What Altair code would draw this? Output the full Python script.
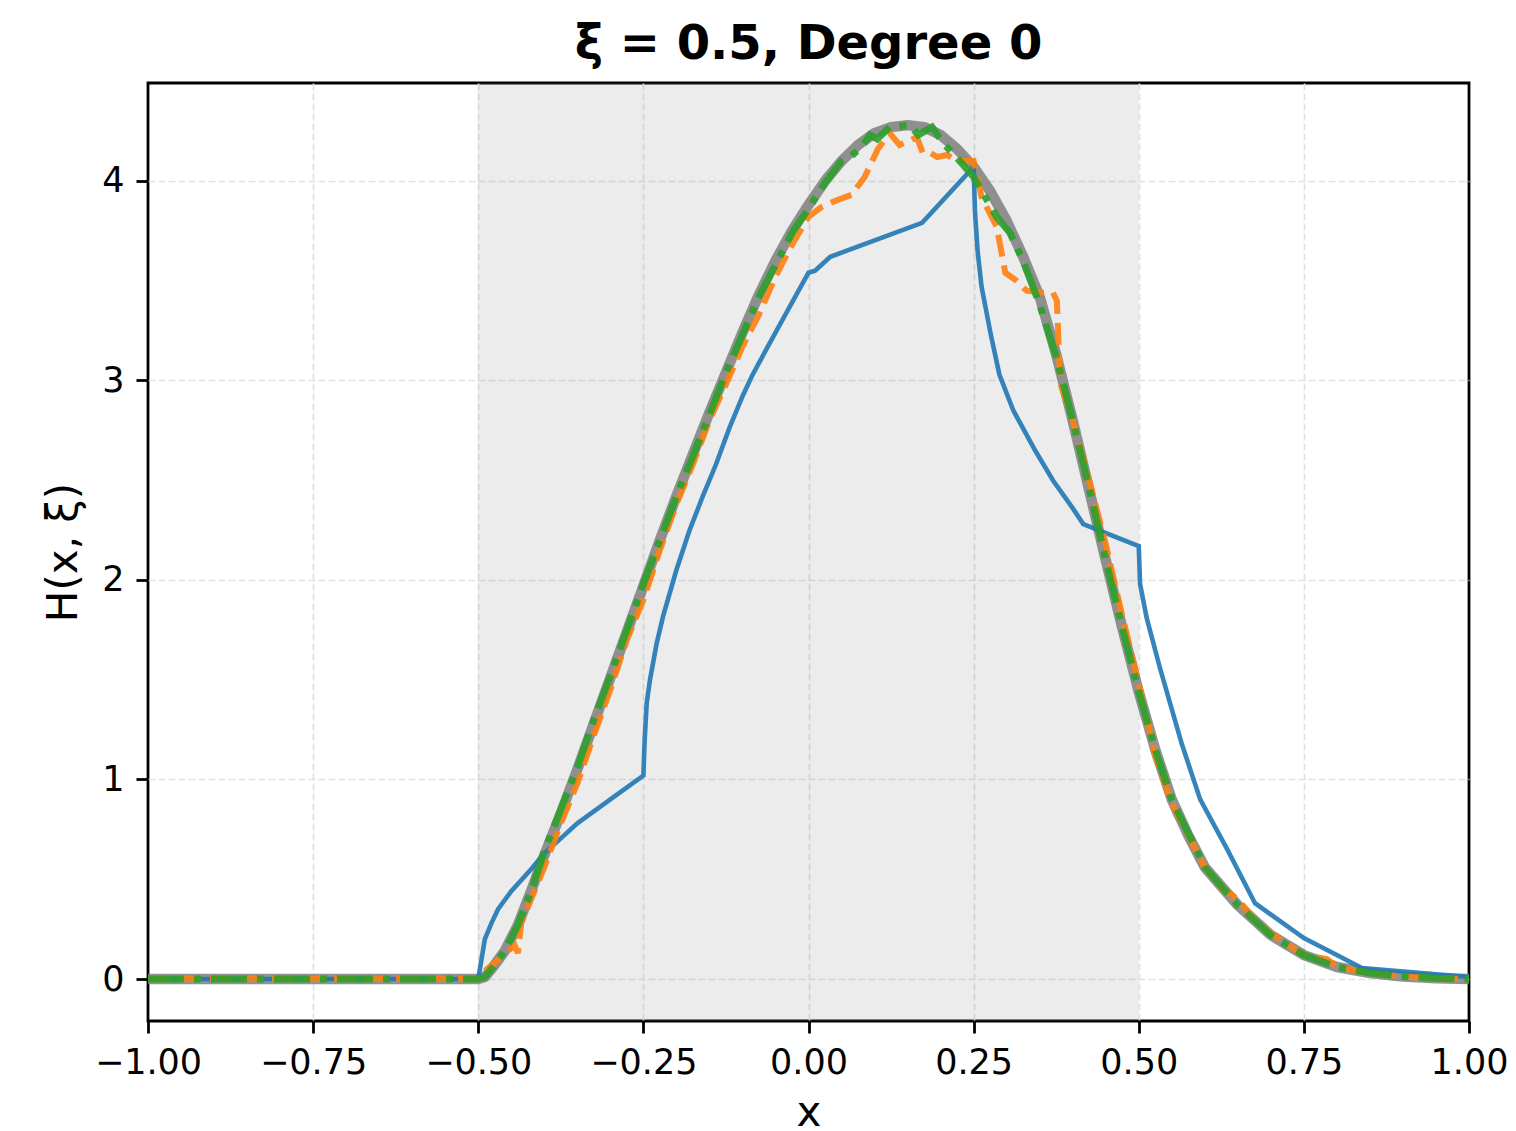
import altair as alt
import pandas as pd

# ---------------- data ----------------
x_ticks = [-1.0, -0.75, -0.5, -0.25, 0.0, 0.25, 0.5, 0.75, 1.0]
y_ticks = [0, 1, 2, 3, 4]
shade_x = [-0.5, 0.5]

truth_x = [-1.0, -0.5, -0.49, -0.48, -0.46, -0.44, -0.42, -0.40, -0.375, -0.35, -0.325, -0.30,
           -0.275, -0.25, -0.225, -0.20, -0.175, -0.15, -0.125, -0.10, -0.075, -0.05, -0.025,
           0.0, 0.025, 0.05, 0.075, 0.1, 0.125, 0.15, 0.175, 0.2, 0.225, 0.25, 0.275, 0.3,
           0.325, 0.35, 0.375, 0.4, 0.425, 0.45, 0.475, 0.5, 0.525, 0.55, 0.575, 0.6, 0.65,
           0.7, 0.75, 0.8, 0.85, 0.9, 0.95, 1.0]
truth_y = [0, 0, 0.01, 0.05, 0.14, 0.27, 0.44, 0.62, 0.83, 1.05, 1.28, 1.51,
           1.74, 1.97, 2.2, 2.42, 2.63, 2.84, 3.04, 3.24, 3.43, 3.6, 3.75,
           3.88, 4.0, 4.1, 4.18, 4.24, 4.27, 4.28, 4.27, 4.23, 4.16, 4.07, 3.95, 3.8,
           3.62, 3.42, 3.13, 2.8, 2.45, 2.1, 1.76, 1.44, 1.15, 0.9, 0.72, 0.56, 0.37,
           0.22, 0.12, 0.06, 0.03, 0.012, 0.004, 0]

blue_x = [-1.0, -0.5, -0.495, -0.49, -0.48, -0.47, -0.45, -0.42, -0.4, -0.37, -0.35, -0.3,
          -0.25, -0.248, -0.245, -0.24, -0.23, -0.22, -0.2, -0.18, -0.16, -0.14, -0.12, -0.1,
          -0.086, -0.06, -0.04, -0.02, 0.0, 0.01, 0.033, 0.172, 0.25, 0.252, 0.256, 0.262,
          0.276, 0.289, 0.31, 0.343, 0.37, 0.4, 0.416, 0.5, 0.502, 0.512, 0.532, 0.565,
          0.593, 0.634, 0.676, 0.75, 0.838, 1.0]
blue_y = [0, 0, 0.1, 0.2, 0.28, 0.35, 0.44, 0.55, 0.63, 0.72, 0.78, 0.9,
          1.02, 1.2, 1.38, 1.5, 1.68, 1.82, 2.05, 2.25, 2.42, 2.58, 2.76, 2.92,
          3.02, 3.18, 3.3, 3.42, 3.54, 3.55, 3.62, 3.79, 4.07, 3.85, 3.65, 3.47,
          3.23, 3.03, 2.85, 2.65, 2.5, 2.36, 2.28, 2.17, 1.98, 1.81, 1.56, 1.18,
          0.9, 0.65, 0.38, 0.205, 0.055, 0.01]

orange_x = [-1.0, -0.5, -0.49, -0.465, -0.445, -0.44, -0.435, -0.42, -0.40, -0.375, -0.36,
            -0.35, -0.325, -0.30, -0.275, -0.25, -0.225, -0.20, -0.175, -0.15, -0.125, -0.10,
            -0.075, -0.05, -0.025, 0.0, 0.02, 0.04, 0.065, 0.085, 0.105, 0.123, 0.138, 0.152,
            0.164, 0.173, 0.185, 0.195, 0.21, 0.225, 0.25, 0.262, 0.285, 0.298, 0.315, 0.33,
            0.355, 0.37, 0.376, 0.378, 0.381, 0.39, 0.4, 0.425, 0.45, 0.475, 0.5, 0.525,
            0.55, 0.575, 0.6, 0.625, 0.65, 0.675, 0.7, 0.75, 0.785, 0.8, 0.85, 0.9, 0.95, 1.0]
orange_y = [0, 0, 0.04, 0.11, 0.17, 0.13, 0.28, 0.4, 0.56, 0.78, 0.9,
            0.98, 1.22, 1.45, 1.7, 1.9, 2.15, 2.38, 2.58, 2.8, 2.98, 3.17,
            3.33, 3.52, 3.68, 3.82, 3.87, 3.9, 3.93, 4.02, 4.16, 4.24, 4.18, 4.2,
            4.22, 4.14, 4.14, 4.12, 4.13, 4.1, 4.1, 3.92, 3.77, 3.54, 3.5, 3.45,
            3.44, 3.44, 3.4, 3.24, 2.99, 2.9, 2.8, 2.5, 2.18, 1.82, 1.48, 1.12,
            0.88, 0.72, 0.56, 0.46, 0.4, 0.3, 0.23, 0.12, 0.1, 0.06, 0.03, 0.012, 0.004, 0]

green_x = [-1.0, -0.5, -0.49, -0.48, -0.46, -0.44, -0.42, -0.40, -0.375, -0.35, -0.325, -0.30,
           -0.275, -0.25, -0.225, -0.2, -0.175, -0.15, -0.125, -0.1, -0.075, -0.05, -0.025,
           0.0, 0.025, 0.05, 0.063, 0.08, 0.093, 0.104, 0.123, 0.154, 0.166, 0.187, 0.204,
           0.229, 0.25, 0.285, 0.305, 0.325, 0.35, 0.375, 0.4, 0.425, 0.45, 0.475, 0.5,
           0.525, 0.55, 0.6, 0.65, 0.7, 0.75, 0.8, 0.85, 0.9, 0.95, 1.0]
green_y = [0, 0, 0.01, 0.05, 0.14, 0.27, 0.44, 0.64, 0.85, 1.06, 1.3, 1.52,
           1.75, 1.98, 2.2, 2.42, 2.62, 2.83, 3.04, 3.23, 3.42, 3.58, 3.74,
           3.86, 3.99, 4.1, 4.12, 4.17, 4.23, 4.21, 4.27, 4.28, 4.23, 4.27, 4.19,
           4.1, 4.02, 3.82, 3.74, 3.6, 3.38, 3.12, 2.8, 2.46, 2.1, 1.76, 1.44,
           1.15, 0.9, 0.56, 0.37, 0.22, 0.12, 0.06, 0.03, 0.012, 0.004, 0]

# ---------------- chart ----------------
W, H = 1321, 938
FONT = "DejaVu Sans"

xscale = alt.Scale(domain=[-1, 1], nice=False, zero=False)
yscale = alt.Scale(domain=[-0.2105, 4.491], nice=False, zero=False)

edge_grid_off = {"condition": {"test": "abs(datum.value) >= 0.999", "value": 0}, "value": 1}

xaxis = alt.Axis(
    values=x_ticks, format=".2f", title="x", labelFlush=False, labelOverlap=False,
    titleX=W / 2, titleY=104, titleBaseline="alphabetic", titleAlign="center",
    titleFontSize=42, titleFontWeight="normal", gridOpacity=edge_grid_off)
yaxis = alt.Axis(
    values=y_ticks, format="d", title="H(x, ξ)", labelOverlap=False,
    titleX=-72, titleY=H / 2, titleAngle=270, titleBaseline="alphabetic",
    titleAlign="center", titleFontSize=42, titleFontWeight="normal")

xenc = alt.X("x:Q", scale=xscale, axis=xaxis)
yenc = alt.Y("y:Q", scale=yscale, axis=yaxis)


def df(xs, ys):
    return pd.DataFrame({"x": xs, "y": ys})


shade = alt.Chart(pd.DataFrame({"x": [shade_x[0]], "x2": [shade_x[1]]})).mark_rect(
    color="#808080", opacity=0.15).encode(
    x=alt.X("x:Q", scale=xscale, axis=xaxis), x2="x2:Q",
    y=alt.value(0), y2=alt.value(H))

gray = alt.Chart(df(truth_x, truth_y)).mark_line(
    color="#7f7f7f", opacity=0.85, strokeWidth=10.5, strokeJoin="round").encode(x=xenc, y=yenc)
blue = alt.Chart(df(blue_x, blue_y)).mark_line(
    color="#1f77b4", opacity=0.9, strokeWidth=4.6).encode(x=xenc, y=yenc)
orange = alt.Chart(df(orange_x, orange_y)).mark_line(
    color="#ff7f0e", opacity=0.9, strokeWidth=6, strokeDash=[22, 9]).encode(x=xenc, y=yenc)
green = alt.Chart(df(green_x, green_y)).mark_line(
    color="#2ca02c", opacity=0.9, strokeWidth=7, strokeDash=[36, 10, 7, 10]).encode(x=xenc, y=yenc)

chart = alt.layer(shade, gray, blue, orange, green).properties(
    width=W, height=H,
    title=alt.TitleParams("ξ = 0.5, Degree 0", font=FONT, fontSize=48, fontWeight="bold",
                          color="black", anchor="middle", frame="group",
                          baseline="alphabetic", offset=23, dy=47),
    autosize=alt.AutoSizeParams(type="none"),
    padding={"left": 140, "top": 75, "right": 39, "bottom": 112},
).configure(font=FONT).configure_view(
    stroke="black", strokeWidth=2.8
).configure_axis(
    labelFont=FONT, titleFont=FONT, labelFontSize=35, labelColor="black", titleColor="black",
    tickColor="black", tickSize=12, tickWidth=2.8, labelPadding=12, domain=False,
    grid=True, gridColor="#e2e2e2", gridDash=[7, 3], gridWidth=1.7,
)

chart.save("out.html", embed_options={"renderer": "svg", "actions": False})
